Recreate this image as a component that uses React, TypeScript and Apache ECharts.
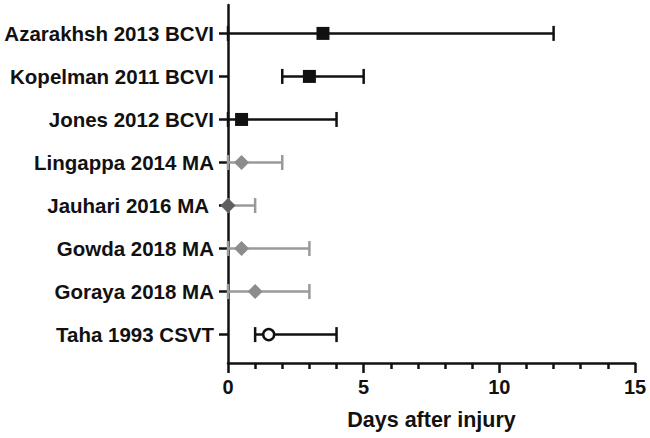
import React, { useEffect, useRef } from "react";
import * as echarts from "echarts";

// index 0 = bottom row
const studies = [
  "Taha 1993 CSVT",
  "Goraya 2018 MA",
  "Gowda 2018 MA",
  "Jauhari 2016 MA ",
  "Lingappa 2014 MA",
  "Jones 2012 BCVI",
  "Kopelman 2011 BCVI",
  "Azarakhsh 2013 BCVI",
];
const means = [1.5, 1, 0.5, 0, 0.5, 0.5, 3, 3.5];
const lows = [1, 0, 0, 0, 0, 0, 2, 0];
const highs = [4, 3, 3, 1, 2, 4, 5, 12];
const groups = ["CSVT", "MA", "MA", "MA", "MA", "BCVI", "BCVI", "BCVI"];
const xTicks = [0, 5, 10, 15];
const rowIdx = studies.map((_, i) => i);

const FONT = "'Liberation Sans', Arial, Helvetica, sans-serif";
const BLACK = "#111111";
const GREY_BAR = "#9a9a9a";
const GREY_MARK = "#8c8c8c";
const GREY_DARK = "#5f5f5f";
const LW = 2.5;

export default function App() {
  const ref = useRef<HTMLDivElement>(null);
  useEffect(() => {
    if (!ref.current) return;
    const chart = echarts.init(ref.current, null, { renderer: "svg" });
    const barData = rowIdx.map((i) => [lows[i], highs[i], i]);
    const pick = (g: string) =>
      rowIdx.filter((i) => groups[i] === g).map((i) => [means[i], i]);
    chart.setOption({
      animation: false,
      grid: { left: 228, right: 15, top: 5, bottom: 75 },
      xAxis: {
        type: "value",
        min: xTicks[0],
        max: xTicks[xTicks.length - 1],
        interval: 5,
        name: "Days after injury",
        nameLocation: "middle",
        nameGap: 46,
        nameTextStyle: { fontFamily: FONT, fontWeight: "bold", fontSize: 21.5, color: BLACK },
        axisLine: { show: true, onZero: false, lineStyle: { color: BLACK, width: LW } },
        axisTick: { show: true, length: 10, lineStyle: { color: BLACK, width: LW } },
        minorTick: { show: true, splitNumber: 5, length: 6, lineStyle: { color: BLACK, width: LW } },
        splitLine: { show: false },
        axisLabel: { fontFamily: FONT, fontWeight: "bold", fontSize: 20, color: BLACK, margin: 14 },
      },
      yAxis: {
        type: "value",
        min: -0.66,
        max: 7.66,
        axisLine: { show: true, onZero: false, lineStyle: { color: BLACK, width: LW } },
        axisTick: { show: true, length: 9, customValues: rowIdx, lineStyle: { color: BLACK, width: LW } },
        splitLine: { show: false },
        axisLabel: {
          customValues: rowIdx,
          formatter: (v: number) => studies[Math.round(v)],
          fontFamily: FONT,
          fontWeight: "bold",
          fontSize: 20.5,
          color: BLACK,
          margin: 14,
        },
      },
      series: [
        {
          type: "custom",
          data: barData,
          z: 3,
          renderItem: (params: any, api: any) => {
            const y = api.value(2);
            const a = api.coord([api.value(0), y]);
            const b = api.coord([api.value(1), y]);
            const color = groups[params.dataIndex] === "MA" ? GREY_BAR : BLACK;
            const h = 7.5;
            const style = { stroke: color, lineWidth: LW, fill: "none" };
            return {
              type: "group",
              children: [
                { type: "line", shape: { x1: a[0], y1: a[1], x2: b[0], y2: b[1] }, style },
                { type: "line", shape: { x1: a[0], y1: a[1] - h, x2: a[0], y2: a[1] + h }, style },
                { type: "line", shape: { x1: b[0], y1: b[1] - h, x2: b[0], y2: b[1] + h }, style },
              ],
            };
          },
        },
        {
          type: "scatter",
          z: 4,
          symbol: "rect",
          symbolSize: 13,
          itemStyle: { color: BLACK, opacity: 1 },
          data: pick("BCVI"),
        },
        {
          type: "scatter",
          z: 4,
          symbol: "diamond",
          symbolSize: [15, 15],
          itemStyle: { color: GREY_MARK, opacity: 1 },
          data: rowIdx
            .filter((i) => groups[i] === "MA")
            .map((i) => ({
              value: [means[i], i],
              itemStyle: { color: means[i] === 0 ? GREY_DARK : GREY_MARK },
            })),
        },
        {
          type: "scatter",
          z: 4,
          symbol: "circle",
          symbolSize: 11,
          itemStyle: { color: "#ffffff", borderColor: BLACK, borderWidth: 2.5, opacity: 1 },
          data: pick("CSVT"),
        },
      ],
    });
    return () => chart.dispose();
  }, []);
  return <div ref={ref} style={{ width: 650, height: 438, position: "absolute", left: 0, top: 0, background: "#fff" }} />;
}
